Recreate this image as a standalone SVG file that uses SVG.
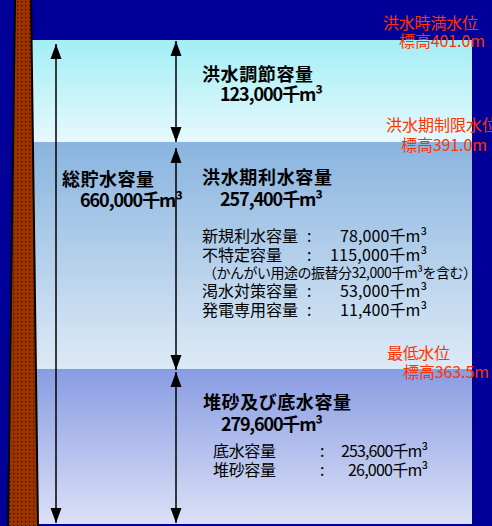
<svg xmlns="http://www.w3.org/2000/svg" width="492" height="526" viewBox="0 0 492 526">
<defs>
<linearGradient id="g1" x1="0" y1="0" x2="0" y2="1"><stop offset="0" stop-color="#A3EEF5"/><stop offset="1" stop-color="#E6F9FC"/></linearGradient>
<linearGradient id="g2" x1="0" y1="0" x2="0" y2="1"><stop offset="0" stop-color="#8AB4DF"/><stop offset="1" stop-color="#DDEAF6"/></linearGradient>
<linearGradient id="g3" x1="0" y1="0" x2="0" y2="1"><stop offset="0" stop-color="#889CE2"/><stop offset="1" stop-color="#DCE1F7"/></linearGradient>
<pattern id="dots" width="4" height="4" patternUnits="userSpaceOnUse"><rect width="4" height="4" fill="#9A3300"/><rect x="1" y="1" width="1.3" height="1.3" fill="#3A1200"/></pattern>
<marker id="ah" markerWidth="15" markerHeight="12" refX="15" refY="6" orient="auto-start-reverse" markerUnits="userSpaceOnUse"><path d="M0,0.5 L15,6 L0,11.5 z" fill="#000"/></marker>
<style>
text{font-family:"Noto Sans CJK JP","Noto Sans",sans-serif;}
.red{fill:#FF3300;font-size:16px;}
.ttl{fill:#000;font-size:18px;font-weight:bold;}
.lst{fill:#000;font-size:16px;}
.sm{fill:#000;font-size:14px;}
.arr{stroke:#000;stroke-width:1.5;fill:none;marker-start:url(#ah);marker-end:url(#ah);}
</style>
</defs>
<rect width="492" height="526" fill="#000099"/>
<g id="water">
<rect x="28" y="40" width="444" height="102" fill="url(#g1)"/>
<rect x="28" y="142" width="444" height="227" fill="url(#g2)"/>
<rect x="28" y="369" width="444" height="155" fill="url(#g3)"/>
</g>
<g id="dam">
<polygon points="15,-1 31,-1 38,527 8,527" fill="url(#dots)" stroke="#000" stroke-width="2"/>
</g>
<g id="connectors">
<line class="arr" x1="56" y1="44" x2="56" y2="523"/>
<line class="arr" x1="176" y1="41" x2="176" y2="142"/>
<line class="arr" x1="176" y1="148" x2="176" y2="370"/>
<line class="arr" x1="176" y1="372" x2="176" y2="523"/>
</g>
<g id="level-high">
<text class="red" x="383" y="29" textLength="95">洪水時満水位</text>
<text class="red" x="399" y="47" textLength="86">標高401.0m</text>
</g>
<g id="level-limit">
<text class="red" x="386" y="131" textLength="112">洪水期制限水位</text>
<text class="red" x="401" y="151" textLength="86">標高391.0m</text>
</g>
<g id="level-low">
<text class="red" x="387" y="359" textLength="63">最低水位</text>
<text class="red" x="403" y="378" textLength="86">標高363.5m</text>
</g>
<g id="flood-control">
<text class="ttl" x="202" y="81" textLength="111">洪水調節容量</text>
<text class="ttl" x="220" y="101" textLength="103">123,000千m³</text>
</g>
<g id="total">
<text class="ttl" x="62" y="186" textLength="92">総貯水容量</text>
<text class="ttl" x="80" y="207" textLength="103">660,000千m³</text>
</g>
<g id="utilization">
<text class="ttl" x="202" y="184" textLength="130">洪水期利水容量</text>
<text class="ttl" x="220" y="206" textLength="103">257,400千m³</text>
<text class="lst" x="202" y="242" textLength="96">新規利水容量</text>
<text class="lst" x="307" y="242">:</text>
<text class="lst" x="340" y="242" textLength="87">78,000千m³</text>
<text class="lst" x="202" y="261" textLength="80">不特定容量</text>
<text class="lst" x="307" y="261">:</text>
<text class="lst" x="330" y="261" textLength="97">115,000千m³</text>
<text class="sm" x="203" y="278" textLength="274">（かんがい用途の振替分32,000千m³を含む）</text>
<text class="lst" x="202" y="297" textLength="96">渇水対策容量</text>
<text class="lst" x="307" y="297">:</text>
<text class="lst" x="340" y="297" textLength="87">53,000千m³</text>
<text class="lst" x="202" y="316" textLength="96">発電専用容量</text>
<text class="lst" x="307" y="316">:</text>
<text class="lst" x="340" y="316" textLength="87">11,400千m³</text>
</g>
<g id="dead-storage">
<text class="ttl" x="203" y="409" textLength="148">堆砂及び底水容量</text>
<text class="ttl" x="221" y="431" textLength="102">279,600千m³</text>
<text class="lst" x="213" y="457" textLength="63">底水容量</text>
<text class="lst" x="320" y="457">:</text>
<text class="lst" x="341" y="457" textLength="87">253,600千m³</text>
<text class="lst" x="213" y="476" textLength="63">堆砂容量</text>
<text class="lst" x="320" y="476">:</text>
<text class="lst" x="348" y="476" textLength="80">26,000千m³</text>
</g>
</svg>
